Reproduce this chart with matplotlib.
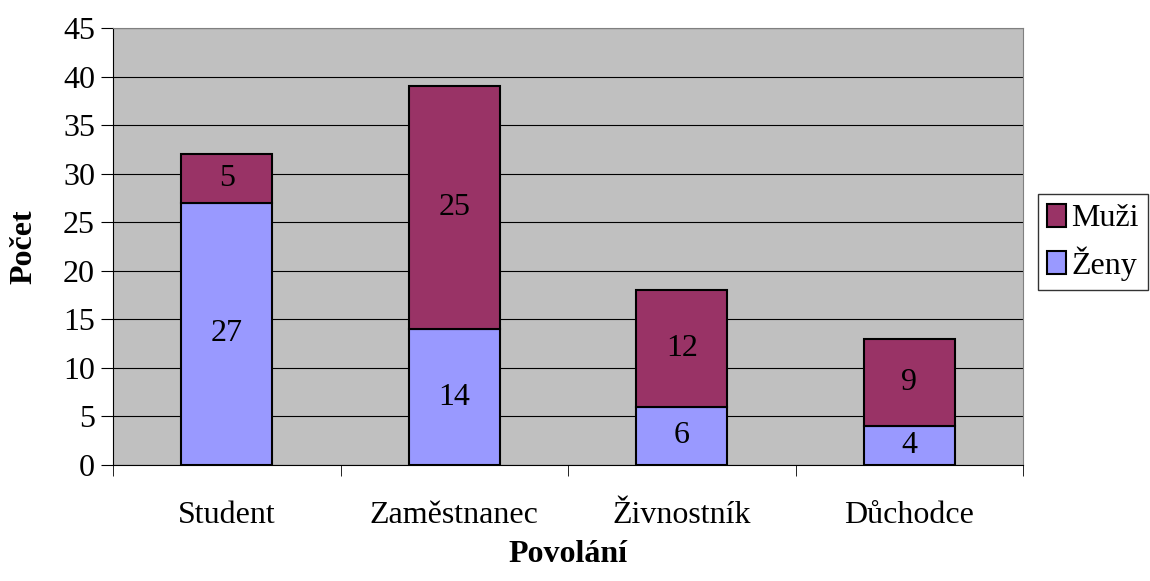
import matplotlib.pyplot as plt
import numpy as np

plt.rcParams['font.family'] = ['Liberation Serif', 'DejaVu Serif']

categories = ["Student", "Zaměstnanec", "Živnostník", "Důchodce"]
zeny = [27, 14, 6, 4]
muzi = [5, 25, 12, 9]

FS = 23

fig = plt.figure(figsize=(11.5, 5.81), dpi=100)
ax = fig.add_axes([0.0983, 0.1997, 0.7913, 0.7521])
ax.set_facecolor('#C0C0C0')

x = np.arange(len(categories))
b1 = ax.bar(x, zeny, width=0.4, color='#9999FF', edgecolor='black', linewidth=1.5, label='Ženy', zorder=3)
b2 = ax.bar(x, muzi, width=0.4, bottom=zeny, color='#993366', edgecolor='black', linewidth=1.5, label='Muži', zorder=3)

for i in range(len(categories)):
    ax.text(x[i], zeny[i] / 2, str(zeny[i]), ha='center', va='center', fontsize=FS, zorder=4)
    ax.text(x[i], zeny[i] + muzi[i] / 2, str(muzi[i]), ha='center', va='center', fontsize=FS, zorder=4)

ax.set_xlim(-0.5, 3.5)
ax.set_ylim(0, 45)
ax.set_yticks(range(0, 46, 5))
ax.yaxis.grid(True, color='#000000', linewidth=0.8, zorder=1)
ax.set_xticks(x)
ax.set_xticklabels(categories, fontsize=FS)
ax.set_xticks(np.arange(-0.5, 4, 1), minor=True)
ax.tick_params(axis='x', which='major', length=0, pad=26)
ax.tick_params(axis='x', which='minor', length=8, direction='out', color='black')
ax.tick_params(axis='y', labelsize=FS, length=9, direction='out', pad=4)

for s in ['top', 'right']:
    ax.spines[s].set_color('#808080')
for s in ['left', 'bottom']:
    ax.spines[s].set_color('black')

ax.set_ylabel('Počet', fontsize=FS, fontweight='bold', labelpad=18)
ax.set_xlabel('Povolání', fontsize=FS, fontweight='bold', labelpad=7)

handles = [b2, b1]
leg = ax.legend(handles, ['Muži', 'Ženy'], loc='center left', bbox_to_anchor=(1.016, 0.51),
                fontsize=FS, frameon=True, fancybox=False, edgecolor='black',
                handlelength=0.6, handleheight=0.75, handletextpad=0.15, borderpad=0.3,
                labelspacing=0.4, borderaxespad=0)
leg.get_frame().set_linewidth(1.0)

fig.savefig('out.png', dpi=100)
